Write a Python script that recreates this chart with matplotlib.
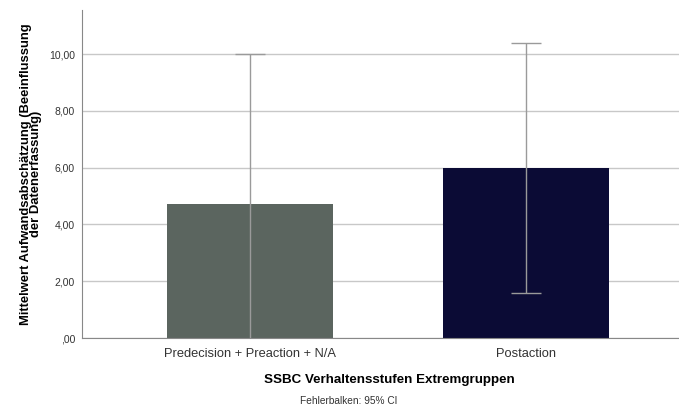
import matplotlib
matplotlib.use("Agg")
import matplotlib.pyplot as plt

plt.rcParams["font.family"] = ["Liberation Sans", "DejaVu Sans"]

categories = ["Predecision + Preaction + N/A", "Postaction"]
means = [4.72, 6.00]
ci_low = [-0.56, 1.60]
ci_high = [10.00, 10.38]
bar_colors = ["#5b655f", "#0b0b35"]
yticks = [0, 2, 4, 6, 8, 10]
ytick_labels = [",00", "2,00", "4,00", "6,00", "8,00", "10,00"]

fig = plt.figure(figsize=(6.79, 4.09), dpi=100)
ax = fig.add_axes([82 / 679, 1 - 338 / 409, 597 / 679, 328 / 409])

x = list(range(len(categories)))
ax.set_axisbelow(True)
ax.yaxis.grid(True, color="#c8c8c8", linewidth=1.0)
ax.bar(x, means, width=0.6, color=bar_colors, zorder=2)

# error bars (lower end clipped by the axis)
lo = [m - l for m, l in zip(means, ci_low)]
hi = [h - m for m, h in zip(means, ci_high)]
ax.errorbar(x, means, yerr=[lo, hi], fmt="none", ecolor="#9a9a9a",
            elinewidth=1.0, capsize=11, capthick=1.0, zorder=3)

ax.set_xlim(-0.609, 1.554)
ax.set_ylim(0, 11.55)
ax.set_yticks(yticks)
ax.set_yticklabels(ytick_labels, fontsize=7.5, color="#333333")
ax.set_xticks(x)
ax.set_xticklabels(categories, fontsize=9.3, color="#333333")
ax.tick_params(axis="both", length=0)
ax.tick_params(axis="x", pad=7)
ax.tick_params(axis="y", pad=5)

for side in ["top", "right"]:
    ax.spines[side].set_visible(False)
ax.spines["left"].set_color("#888888")
ax.spines["bottom"].set_color("#888888")

fig.text(31 / 679, 1 - 174 / 409,
         "Mittelwert Aufwandsabschätzung (Beeinflussung\nder Datenerfassung)",
         rotation=90, ha="center", va="center", multialignment="center",
         fontsize=9.4, fontweight="bold", linespacing=0.82)
fig.text(389 / 679, 1 - 380 / 409, "SSBC Verhaltensstufen Extremgruppen",
         ha="center", va="center", fontsize=9.6, fontweight="bold")
fig.text(349 / 679, 1 - 401 / 409, "Fehlerbalken: 95% CI",
         ha="center", va="center", fontsize=7.3, color="#333333")

fig.savefig("out.png", dpi=100)
